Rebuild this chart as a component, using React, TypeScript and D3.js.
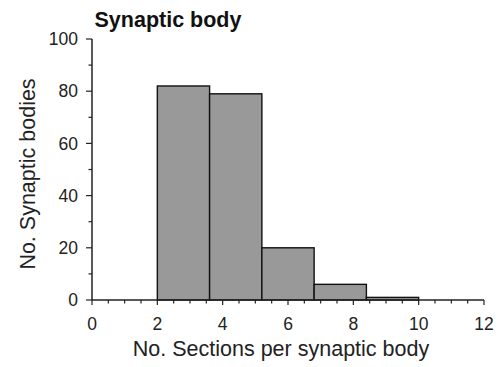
import { useEffect, useRef } from "react"
import * as d3 from "d3"

// Histogram bins (sections per synaptic body) and counts
const binEdges: number[] = [2, 3.6, 5.2, 6.8, 8.4, 10]
const counts: number[] = [82, 79, 20, 6, 1]

const xTicks: number[] = [0, 2, 4, 6, 8, 10, 12]
const yTicks: number[] = [0, 20, 40, 60, 80, 100]

const chartTitle = "Synaptic body"
const xTitle = "No. Sections per synaptic body"
const yTitle = "No. Synaptic bodies"

export default function App() {
  const svgRef = useRef<SVGSVGElement>(null)

  useEffect(() => {
    if (!svgRef.current) return
    d3.select(svgRef.current).selectAll("*").remove()

    const width = 500
    const height = 367
    const margin = { top: 39, right: 16, bottom: 67, left: 92 }
    const font = "'Liberation Sans', Arial, Helvetica, sans-serif"

    const x = d3.scaleLinear().domain([0, 12]).range([margin.left, width - margin.right])
    const y = d3.scaleLinear().domain([0, 100]).range([height - margin.bottom, margin.top])

    const svg = d3.select(svgRef.current).attr("width", width).attr("height", height)

    const bins = counts.map((c, i) => ({ x0: binEdges[i], x1: binEdges[i + 1], count: c }))

    // bars
    svg
      .selectAll("rect.bar")
      .data(bins)
      .enter()
      .append("rect")
      .attr("class", "bar")
      .attr("x", (d) => x(d.x0))
      .attr("y", (d) => y(d.count))
      .attr("width", (d) => x(d.x1) - x(d.x0))
      .attr("height", (d) => y(0) - y(d.count))
      .attr("fill", "#999999")
      .attr("stroke", "#111")
      .attr("stroke-width", 1.4)

    const axisColor = "#222"

    // x axis
    const gx = svg.append("g").attr("transform", `translate(0,${y(0)})`)
    gx.append("line")
      .attr("x1", x(0))
      .attr("x2", x(12))
      .attr("stroke", axisColor)
      .attr("stroke-width", 1.5)
    const xMinor = d3.range(0, 12.01, 0.5)
    gx.selectAll("line.tick")
      .data(xMinor)
      .enter()
      .append("line")
      .attr("x1", (d) => x(d))
      .attr("x2", (d) => x(d))
      .attr("y1", 0)
      .attr("y2", (d) => (d % 2 === 0 ? 5 : 3.5))
      .attr("stroke", axisColor)
      .attr("stroke-width", 1.2)
    gx.selectAll("text")
      .data(xTicks)
      .enter()
      .append("text")
      .attr("x", (d) => x(d))
      .attr("y", 30)
      .attr("text-anchor", "middle")
      .attr("font-family", font)
      .attr("font-size", 17.5)
      .attr("fill", "#222")
      .text((d) => d)

    // y axis
    const gy = svg.append("g").attr("transform", `translate(${x(0)},0)`)
    gy.append("line")
      .attr("y1", y(0))
      .attr("y2", y(100))
      .attr("stroke", axisColor)
      .attr("stroke-width", 1.5)
    const yMinor = d3.range(0, 100.1, 10)
    gy.selectAll("line.tick")
      .data(yMinor)
      .enter()
      .append("line")
      .attr("x1", (d) => (d % 20 === 0 ? -6 : -3.5))
      .attr("x2", 0)
      .attr("y1", (d) => y(d))
      .attr("y2", (d) => y(d))
      .attr("stroke", axisColor)
      .attr("stroke-width", 1.2)
    gy.selectAll("text")
      .data(yTicks)
      .enter()
      .append("text")
      .attr("x", -14)
      .attr("y", (d) => y(d))
      .attr("dy", "0.35em")
      .attr("text-anchor", "end")
      .attr("font-family", font)
      .attr("font-size", 17.5)
      .attr("fill", "#222")
      .text((d) => d)

    // titles
    svg
      .append("text")
      .attr("x", 168)
      .attr("y", 27)
      .attr("text-anchor", "middle")
      .attr("font-family", font)
      .attr("font-weight", "bold")
      .attr("font-size", 21.5)
      .attr("fill", "#111")
      .text(chartTitle)

    svg
      .append("text")
      .attr("x", 281)
      .attr("y", 356)
      .attr("text-anchor", "middle")
      .attr("font-family", font)
      .attr("font-size", 21.5)
      .attr("fill", "#222")
      .text(xTitle)

    svg
      .append("text")
      .attr("transform", "translate(35,174) rotate(-90)")
      .attr("text-anchor", "middle")
      .attr("font-family", font)
      .attr("font-size", 21.5)
      .attr("fill", "#222")
      .text(yTitle)
  }, [])

  return <svg ref={svgRef} style={{ position: "absolute", left: 0, top: 0, background: "#fff" }} />
}
